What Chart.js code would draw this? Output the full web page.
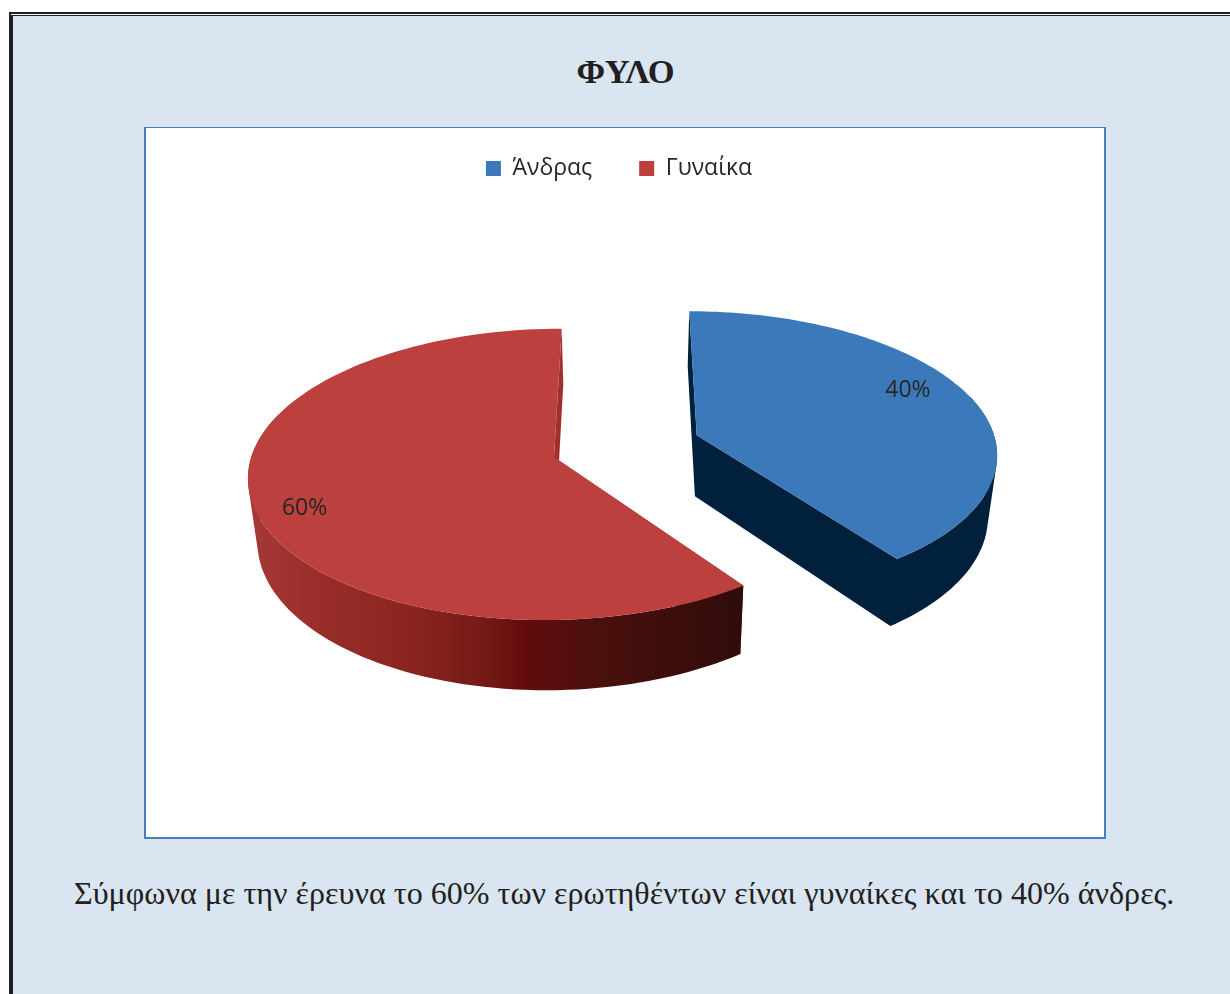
<!DOCTYPE html>
<html lang="el">
<head>
<meta charset="utf-8">
<title>ΦΥΛΟ</title>
<script src="https://cdn.jsdelivr.net/npm/chart.js@4"></script>
<style>
    html, body { margin: 0; padding: 0; background: #fff; }
    body { position: relative; width: 1230px; height: 994px; overflow: hidden; }
    #frame { position: absolute; left: 9px; top: 12px; width: 1221px; height: 982px; background: #231f20; }
    #gap { position: absolute; left: 11px; top: 14px; width: 1219px; height: 1px; background: #fff; }
    #paper { position: absolute; left: 13px; top: 16px; width: 1217px; height: 978px; background: #d9e5f1; }
    #heading { position: absolute; left: 0; top: 52px; width: 1251px; text-align: center;
        font: bold 34.5px "Liberation Serif", serif; color: #231f20; }
    #plotBox { position: absolute; left: 144px; top: 127px; width: 958px; height: 709px;
        background: #fff; border: 2px solid #4a7ebb; border-top-width: 1px; }
    #holder { position: absolute; left: 147px; top: 110px; width: 944px; height: 725px; }
    #caption { position: absolute; left: 74px; top: 875px; white-space: nowrap;
        font: 32.1px "Liberation Serif", serif; color: #231f20; }
</style>
</head>
<body>
<div id="frame"></div>
<div id="gap"></div>
<div id="paper"></div>
<div id="heading">ΦΥΛΟ</div>
<div id="plotBox"></div>
<div id="holder"><canvas id="genderChart"></canvas></div>
<div id="caption">Σύμφωνα με την έρευνα το 60% των ερωτηθέντων είναι γυναίκες και το 40% άνδρες.</div>

<script>
const categories = ['Άνδρας', 'Γυναίκα'];
const shares = [40, 60];
const percentLabels = ['40%', '60%'];
const topColors = ['#3c79ba', '#bb403e'];

// Camera for the 3D look, in canvas pixels
const camX = 479, camY = 336, tilt = 0.47, viewDist = 2540;
const floorScale = 0.975, floorDrop = 61, floorSlope = 0.05;
// Nudge for the percent labels: fraction of radius, then pixels up or down
const labelRadius = [0.775, 0.832];
const labelShiftY = [-12, 13];

function project(x, z) {
    const w = 1 / (1 - z / viewDist);
    return { x: camX + x * w, y: camY + tilt * z * w };
}

function lower(p) {
    return {
        x: camX + (p.x - camX) * floorScale,
        y: p.y + floorDrop + (p.y - (camY - 10)) * floorSlope
    };
}

function poly(ctx, points, fill) {
    ctx.beginPath();
    points.forEach((p, i) => i ? ctx.lineTo(p.x, p.y) : ctx.moveTo(p.x, p.y));
    ctx.closePath();
    ctx.fillStyle = fill;
    ctx.fill();
}

// Adds a quad to the current path, always wound the same way so that
// neighbours fill as one shape with no seams
function addQuad(ctx, q) {
    let area = 0;
    q.forEach((p, i) => {
        const n = q[(i + 1) % q.length];
        area += p.x * n.y - n.x * p.y;
    });
    const pts = area < 0 ? q.slice().reverse() : q;
    pts.forEach((p, i) => i ? ctx.lineTo(p.x, p.y) : ctx.moveTo(p.x, p.y));
    ctx.closePath();
}

// Slice outline from the arc the pie controller worked out
function sliceShape(arc) {
    const mid = (arc.startAngle + arc.endAngle) / 2;
    const ox = Math.cos(mid) * arc.options.offset;
    const oz = Math.sin(mid) * arc.options.offset;
    const rim = [];
    const angles = [];
    const steps = 120;
    for (let i = 0; i <= steps; i++) {
        const a = arc.startAngle + (arc.endAngle - arc.startAngle) * i / steps;
        angles.push(a);
        rim.push(project(ox + Math.cos(a) * arc.outerRadius, oz + Math.sin(a) * arc.outerRadius));
    }
    return { apex: project(ox, oz), rim: rim, angles: angles, ox: ox, oz: oz, mid: mid };
}

function wallFill(ctx, index) {
    if (index === 0) return '#01203c';
    const g = ctx.createLinearGradient(camX - 370, 0, camX + 120, 0);
    g.addColorStop(0, '#a33834');
    g.addColorStop(0.1, '#9b2f2b');
    g.addColorStop(0.32, '#8a241f');
    g.addColorStop(0.47, '#741a16');
    g.addColorStop(0.545, '#640b0d');
    g.addColorStop(0.68, '#4c100c');
    g.addColorStop(1, '#2f0c0a');
    return g;
}

const pie3d = {
    id: 'pie3d',
    beforeDatasetsDraw(chart) {
        const ctx = chart.ctx;
        const arcs = chart.getDatasetMeta(0).data;
        const shapes = arcs.map(sliceShape);

        shapes.forEach((s, i) => {
            const rimLow = s.rim.map(lower);
            const apexLow = lower(s.apex);
            const last = s.rim.length - 1;
            const startCut = [s.apex, s.rim[0], rimLow[0], apexLow];
            const endCut = [s.apex, s.rim[last], rimLow[last], apexLow];
            if (i > 0) {
                poly(ctx, startCut, '#a03030');
                poly(ctx, endCut, '#a03030');
            }
            ctx.beginPath();
            if (i === 0) {
                addQuad(ctx, startCut);
                addQuad(ctx, endCut);
            }
            // outer wall, only the part that faces the viewer
            for (let k = 0; k < last; k++) {
                if (Math.sin(s.angles[k]) < -0.3) continue;
                addQuad(ctx, [s.rim[k], s.rim[k + 1], rimLow[k + 1], rimLow[k]]);
            }
            ctx.fillStyle = wallFill(ctx, i);
            ctx.fill();
        });

        shapes.forEach((s, i) => {
            poly(ctx, [s.apex].concat(s.rim), topColors[i]);
        });

        ctx.font = '23px "Open Sans", sans-serif';
        ctx.fillStyle = '#262626';
        ctx.textAlign = 'center';
        ctx.textBaseline = 'middle';
        shapes.forEach((s, i) => {
            const r = arcs[i].outerRadius * labelRadius[i];
            const p = project(s.ox + Math.cos(s.mid) * r, s.oz + Math.sin(s.mid) * r);
            ctx.fillText(percentLabels[i], p.x, p.y + labelShiftY[i]);
        });
        return false;
    }
};

new Chart(document.getElementById('genderChart'), {
    type: 'pie',
    data: {
        labels: categories,
        datasets: [{
            data: shares,
            backgroundColor: topColors,
            borderWidth: 0,
            offset: 75,
            radius: 300
        }]
    },
    options: {
        responsive: true,
        maintainAspectRatio: false,
        animation: false,
        events: [],
        plugins: {
            tooltip: { enabled: false },
            legend: {
                position: 'top',
                labels: {
                    boxWidth: 15,
                    boxHeight: 15,
                    padding: 47,
                    color: '#262626',
                    font: { family: '"Open Sans", sans-serif', size: 23 }
                }
            }
        }
    },
    plugins: [pie3d]
});
</script>
</body>
</html>
